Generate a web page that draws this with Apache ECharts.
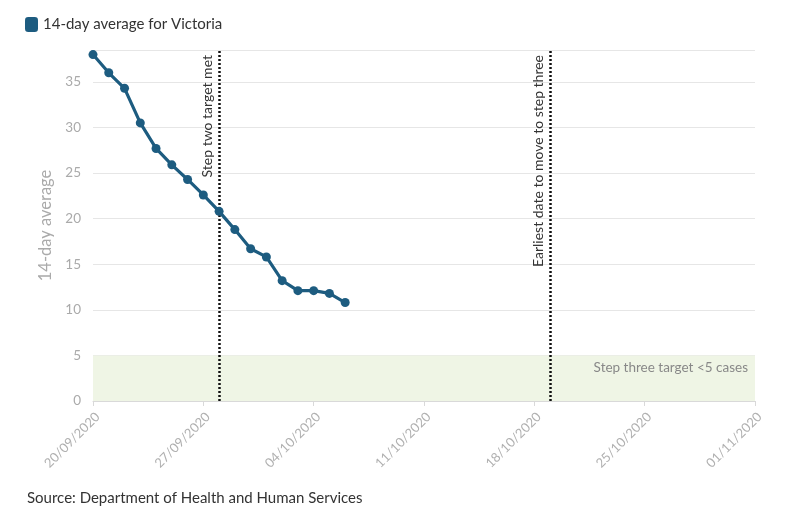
<!DOCTYPE html>
<html><head><meta charset="utf-8">
<script src="https://cdn.jsdelivr.net/npm/echarts@6/dist/echarts.min.js"></script>
<style>html,body{margin:0;padding:0;background:#fff}#c{width:800px;height:519px}</style>
</head><body><div id="c"></div>
<script>
const dates = ['20/09/2020','21/09/2020','22/09/2020','23/09/2020','24/09/2020','25/09/2020','26/09/2020','27/09/2020','28/09/2020','29/09/2020','30/09/2020','01/10/2020','02/10/2020','03/10/2020','04/10/2020','05/10/2020','06/10/2020'];
const values = [38.0, 36.0, 34.3, 30.5, 27.7, 25.9, 24.3, 22.6, 20.8, 18.8, 16.7, 15.8, 13.2, 12.1, 12.1, 11.8, 10.8];
const tickLabels = ['20/09/2020','27/09/2020','04/10/2020','11/10/2020','18/10/2020','25/10/2020','01/11/2020'];
const markers = [
  {date:'28/09/2020', label:'Step two target met'},
  {date:'19/10/2020', label:'Earliest date to move to step three'}
];
const bandMin = 0, bandMax = 5, bandLabel = 'Step three target <5 cases';
const seriesName = '14-day average for Victoria';
const yName = '14-day average';
const source = 'Source: Department of Health and Human Services';

function dayIndex(s){
  const [d,m,y] = s.split('/').map(Number);
  return Math.round((Date.UTC(y,m-1,d) - Date.UTC(2020,8,20)) / 86400000);
}
const FONT = 'Lato';
const chart = echarts.init(document.getElementById('c'));
chart.setOption({
  animation:false,
  textStyle:{fontFamily:FONT},
  legend:{left:20, top:12, icon:'roundRect', itemWidth:13, itemHeight:15, itemGap:6,
    textStyle:{fontSize:15, color:'#333', fontFamily:FONT}, data:[seriesName]},
  graphic:[{type:'text', left:27, top:491, style:{text:source, font:'15px '+FONT, fill:'#333'}}],
  grid:{left:93, right:45, top:50, bottom:118},
  xAxis:{type:'value', min:0, max:42, interval:7,
    axisLine:{lineStyle:{color:'#d9d9d9'}},
    axisTick:{show:true, length:5, lineStyle:{color:'#d9d9d9'}},
    splitLine:{show:false},
    axisLabel:{rotate:45, color:'#b0b0b0', fontSize:13, fontFamily:FONT, margin:9, verticalAlign:'top',
      formatter:v=>tickLabels[Math.round(v/7)] || ''}},
  yAxis:{type:'value', min:0, max:38.5, interval:5,
    name:yName, nameLocation:'middle', nameGap:36,
    nameTextStyle:{color:'#aaa', fontSize:16.5, fontFamily:FONT},
    axisLine:{show:false}, axisTick:{show:false},
    axisLabel:{color:'#aaa', fontSize:13.5, fontFamily:FONT, margin:12, showMaxLabel:false},
    splitLine:{lineStyle:{color:'#e6e6e6'}}},
  series:[{
    name:seriesName, type:'line',
    data:dates.map((d,i)=>[dayIndex(d), values[i]]),
    symbol:'circle', symbolSize:9,
    lineStyle:{color:'#1d5c80', width:3.2},
    itemStyle:{color:'#1d5c80'},
    z:5,
    markArea:{silent:true, itemStyle:{color:'#eff5e5'},
      data:[[{yAxis:bandMin, name:bandLabel, xAxis:0,
               label:{show:true, position:'insideTopRight', color:'#888', fontSize:13.5, fontFamily:FONT, offset:[-2,0]}},
             {yAxis:bandMax, xAxis:42}]]},
    markLine:{silent:true, symbol:'none',
      lineStyle:{color:'#111', type:[2,2], width:2.5},
      label:{show:true, position:'insideEndTop', color:'#333', fontSize:14, fontFamily:FONT, distance:5, formatter:p=>p.name},
      data:markers.map(m=>({xAxis:dayIndex(m.date), name:m.label}))}
  }]
});
</script></body></html>
